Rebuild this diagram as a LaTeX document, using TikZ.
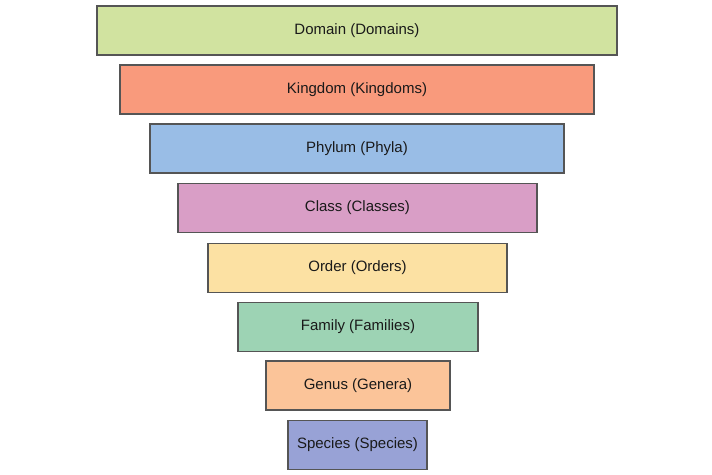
\documentclass[tikz,border=0pt]{standalone}
\usepackage{fontspec}
\setmainfont{Liberation Sans}
\definecolor{cDomain}{HTML}{D1E3A0}
\definecolor{cKingdom}{HTML}{F99A7C}
\definecolor{cPhylum}{HTML}{99BDE6}
\definecolor{cClass}{HTML}{D99EC6}
\definecolor{cOrder}{HTML}{FCE1A3}
\definecolor{cFamily}{HTML}{9DD3B4}
\definecolor{cGenus}{HTML}{FBC499}
\definecolor{cSpecies}{HTML}{98A2D6}
\definecolor{edge}{HTML}{555555}
\definecolor{txt}{HTML}{1A1A1A}
\tikzset{
  level/.style={draw=edge, line width=1.1pt, minimum height=49pt, inner sep=0pt,
    font=\fontsize{15pt}{18pt}\selectfont, text=txt}
}
\begin{document}
\begin{tikzpicture}[x=1pt,y=-1pt]
\useasboundingbox (0,0) rectangle (712,474);
\fill[white] (0,0) rectangle (712,474);
\node[level, fill=cDomain,  minimum width=520pt] (domain)  at (357,30.5)  {Domain (Domains)};
\node[level, fill=cKingdom, minimum width=474pt] (kingdom) at (357,89.5)  {Kingdom (Kingdoms)};
\node[level, fill=cPhylum,  minimum width=414pt] (phylum)  at (357,148.5) {Phylum (Phyla)};
\node[level, fill=cClass,   minimum width=359pt] (class)   at (357.5,208) {Class (Classes)};
\node[level, fill=cOrder,   minimum width=299pt] (order)   at (357.5,268) {Order (Orders)};
\node[level, fill=cFamily,  minimum width=240pt] (family)  at (358,327)   {Family (Families)};
\node[level, fill=cGenus,   minimum width=184pt] (genus)   at (358,385.5) {Genus (Genera)};
\node[level, fill=cSpecies, minimum width=139pt] (species) at (357.5,445) {Species (Species)};
\end{tikzpicture}
\end{document}
